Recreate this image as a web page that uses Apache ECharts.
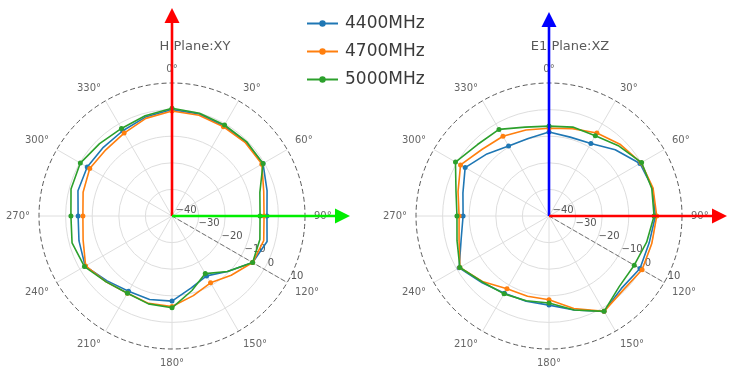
<!DOCTYPE html>
<html><head><meta charset="utf-8">
<script src="https://cdn.jsdelivr.net/npm/echarts@6/dist/echarts.min.js"></script>
<style>html,body{margin:0;padding:0;background:#fff}#c{width:729px;height:371px}</style>
</head><body><div id="c"></div>
<script>
// ---- data ----
const angles = [0,15,30,45,60,75,90,105,120,135,150,165,180,195,210,225,240,255,270,285,300,315,330,345];
const seriesNames = ['4400MHz','4700MHz','5000MHz'];
const plotTitles = ['H Plane:XY','E1 Plane:XZ'];
const angleTicks = [0,30,60,90,120,150,180,210,240,270,300,330];
const radiusTicks = [-40,-30,-20,-10,0,10];
// H plane (XY), dB
const H_4400 = [0,-0.3,-1,-0.8,-0.5,-3,-4.3,-3,-5,-10.5,-14,-12,-8,-7.5,-7.3,-5.5,-2.3,-3.8,-4.7,-3.4,-3.2,-3.5,-3,-1.5];
const H_4700 = [-0.5,-0.8,-1.3,-1,-1,-4.3,-5.4,-4.3,-5,-8.5,-11,-9,-6,-6,-6.5,-5,-2.5,-5.4,-6.5,-5.4,-4.3,-4.8,-4,-2];
const H_5000 = [0.5,0,-0.5,-0.4,-0.5,-5.8,-6.9,-5.8,-5,-10.5,-15,-11,-5.5,-5.8,-6.5,-5,-2,-1.1,-2,-0.7,-0.2,-1.5,-2,-1];
// E1 plane (XZ), dB
const E_4400 = [-8.4,-9.3,-8.5,-4.8,-0.5,0.3,0,-1,-0.5,-1.5,1.4,-3.4,-6.5,-6.8,-6.5,-4.5,-1,-5.8,-7.7,-6.5,-3.6,-7,-9.6,-9.8];
const E_4700 = [-7,-6,-4,-2,0,0.5,0.5,0,0.4,-0.6,1.4,-4,-8.5,-8.8,-8.4,-5,-1.3,-5,-6.2,-4.6,-1.6,-4.5,-5.4,-6.5];
const E_5000 = [-6.2,-5.4,-5.2,-2.8,0.2,0,-0.5,-2,-3,-2.6,1.4,-3.4,-7.3,-7,-6.2,-4.8,-1.3,-4.2,-5.4,-3.8,0.6,-2,-2.4,-5.4];

// ---- style / layout ----
const colors = ['#1f77b4','#ff7f0e','#2ca02c'];
const centers = [[172,216],[549,216]];
const R = 133;
const FONT = 'DejaVu Sans';

function toData(vals){
  const d = vals.map((v,i)=>({value:[v, angles[i]], symbol: (angles[i] % 30 === 0) ? 'circle' : 'none'}));
  d.push({value:[vals[0], 360], symbol:'none'});
  return d;
}
const minus = v => String(v).replace('-', '\u2212');

const polar = [], angleAxis = [], radiusAxis = [];
centers.forEach((c, k) => {
  const main = k*2, lab = k*2+1;
  polar.push({center:c, radius:R});
  polar.push({center:c, radius:R});
  angleAxis.push({
    polarIndex: main, type:'value', min:0, max:360, interval:30, startAngle:90, clockwise:true, z:0,
    axisLine:{show:true, lineStyle:{color:'#5a5a5a', width:1, type:[5,3]}},
    axisTick:{show:false},
    axisLabel:{show:true, margin:9, color:'#666', fontSize:10, fontFamily:FONT,
      formatter: v => (angleTicks.indexOf(v) >= 0 ? v + '°' : '')},
    splitLine:{show:true, lineStyle:{color:'#dedede', width:1}}
  });
  angleAxis.push({polarIndex: lab, type:'value', min:0, max:360, startAngle:-30, clockwise:true, show:false});
  radiusAxis.push({
    polarIndex: main, type:'value', min:radiusTicks[0], max:radiusTicks[radiusTicks.length-1], interval:10, z:0,
    axisLine:{show:false}, axisTick:{show:false}, axisLabel:{show:false},
    splitLine:{show:true, lineStyle:{color:['#dedede','#dedede','#dedede','#dedede','#dedede','rgba(0,0,0,0)'], width:1}}
  });
  radiusAxis.push({
    polarIndex: lab, type:'value', min:radiusTicks[0], max:radiusTicks[radiusTicks.length-1], interval:10, z:0,
    axisLine:{show:true, lineStyle:{color:'#777', width:1, type:[4,3]}},
    axisTick:{show:false},
    axisLabel:{show:true, color:'#555', fontSize:10, fontFamily:FONT, margin:7, formatter: minus},
    splitLine:{show:false}
  });
});

const plotData = [[H_4400,H_4700,H_5000],[E_4400,E_4700,E_5000]];
const series = [];
plotData.forEach((set, k) => {
  set.forEach((vals, j) => {
    series.push({
      type:'line', name:seriesNames[j], coordinateSystem:'polar', polarIndex:k*2,
      data:toData(vals), symbol:'circle', symbolSize:5, showSymbol:true,
      itemStyle:{color:colors[j]}, lineStyle:{color:colors[j], width:1.6},
      z: 2 + j, animation:false
    });
  });
});

function arrow(x0,y0,x1,y1,color){
  const dx = x1-x0, dy = y1-y0, L = Math.hypot(dx,dy), ux = dx/L, uy = dy/L;
  const hl = 15, hw = 7.5;
  const bx = x1-ux*hl, by = y1-uy*hl;
  return [
    {type:'line', z:100, shape:{x1:x0,y1:y0,x2:bx,y2:by}, style:{stroke:color, lineWidth:2.6}},
    {type:'polygon', z:100, shape:{points:[[x1,y1],[bx-uy*hw,by+ux*hw],[bx+uy*hw,by-ux*hw]]}, style:{fill:color}}
  ];
}

const graphic = [].concat(
  arrow(centers[0][0], centers[0][1], centers[0][0], 8, '#ff0000'),
  arrow(centers[0][0], centers[0][1], 350, centers[0][1], '#00ee00'),
  arrow(centers[1][0], centers[1][1], centers[1][0], 12, '#0000ff'),
  arrow(centers[1][0], centers[1][1], 727, centers[1][1], '#ff0000'),
  [
    {type:'text', z:50, x:195, y:47, style:{text:plotTitles[0], align:'center', verticalAlign:'middle', fontSize:13, fontFamily:FONT, fill:'#5a5a5a'}},
    {type:'text', z:50, x:570, y:47, style:{text:plotTitles[1], align:'center', verticalAlign:'middle', fontSize:13, fontFamily:FONT, fill:'#5a5a5a'}}
  ]
);

const chart = echarts.init(document.getElementById('c'), null, {renderer:'canvas'});
chart.setOption({
  backgroundColor:'#fff',
  animation:false,
  legend:{
    orient:'vertical', left:301, top:10, itemWidth:31, itemHeight:8, itemGap:11,
    data:seriesNames, textStyle:{fontSize:17, color:'#3a3a3a', fontFamily:FONT, padding:[0,0,0,2]},
    backgroundColor:'rgba(255,255,255,0.9)'
  },
  polar, angleAxis, radiusAxis, series, graphic
});
</script>
</body></html>
